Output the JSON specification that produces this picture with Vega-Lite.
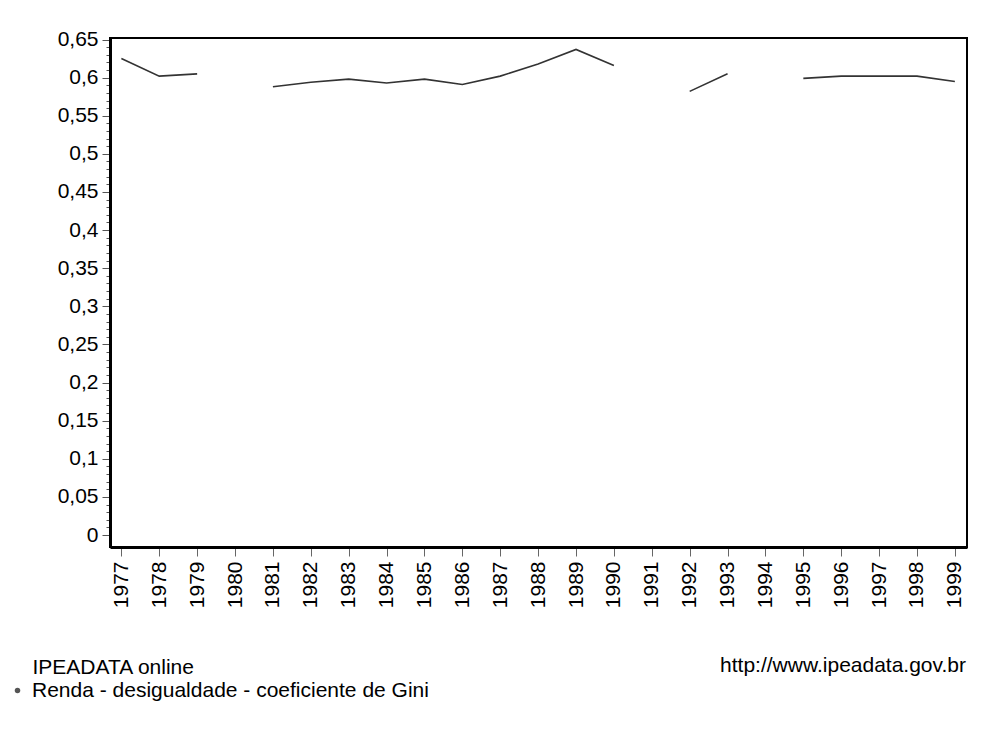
{
  "$schema": "https://vega.github.io/schema/vega-lite/v6.json",
  "width": 857,
  "height": 509,
  "autosize": {"type": "none"},
  "padding": {"left": 110, "top": 38, "right": 19, "bottom": 191},
  "background": "white",
  "config": {
    "view": {"stroke": "#000", "strokeWidth": 2},
    "font": "Liberation Sans",
    "legend": {"padding": 0}
  },
  "title": {
    "text": "http://www.ipeadata.gov.br",
    "orient": "top",
    "anchor": "end",
    "frame": "group",
    "baseline": "alphabetic",
    "offset": 0,
    "dy": 664,
    "dx": -1,
    "fontSize": 21,
    "fontWeight": "normal",
    "font": "Liberation Sans",
    "color": "#000"
  },
  "data": {
    "values": [
      {"year": 1977, "gini": 0.625, "serie": "Renda - desigualdade - coeficiente de Gini"},
      {"year": 1978, "gini": 0.602, "serie": "Renda - desigualdade - coeficiente de Gini"},
      {"year": 1979, "gini": 0.605, "serie": "Renda - desigualdade - coeficiente de Gini"},
      {"year": 1980, "gini": null, "serie": "Renda - desigualdade - coeficiente de Gini"},
      {"year": 1981, "gini": 0.588, "serie": "Renda - desigualdade - coeficiente de Gini"},
      {"year": 1982, "gini": 0.594, "serie": "Renda - desigualdade - coeficiente de Gini"},
      {"year": 1983, "gini": 0.598, "serie": "Renda - desigualdade - coeficiente de Gini"},
      {"year": 1984, "gini": 0.593, "serie": "Renda - desigualdade - coeficiente de Gini"},
      {"year": 1985, "gini": 0.598, "serie": "Renda - desigualdade - coeficiente de Gini"},
      {"year": 1986, "gini": 0.591, "serie": "Renda - desigualdade - coeficiente de Gini"},
      {"year": 1987, "gini": 0.602, "serie": "Renda - desigualdade - coeficiente de Gini"},
      {"year": 1988, "gini": 0.618, "serie": "Renda - desigualdade - coeficiente de Gini"},
      {"year": 1989, "gini": 0.637, "serie": "Renda - desigualdade - coeficiente de Gini"},
      {"year": 1990, "gini": 0.616, "serie": "Renda - desigualdade - coeficiente de Gini"},
      {"year": 1991, "gini": null, "serie": "Renda - desigualdade - coeficiente de Gini"},
      {"year": 1992, "gini": 0.582, "serie": "Renda - desigualdade - coeficiente de Gini"},
      {"year": 1993, "gini": 0.605, "serie": "Renda - desigualdade - coeficiente de Gini"},
      {"year": 1994, "gini": null, "serie": "Renda - desigualdade - coeficiente de Gini"},
      {"year": 1995, "gini": 0.599, "serie": "Renda - desigualdade - coeficiente de Gini"},
      {"year": 1996, "gini": 0.602, "serie": "Renda - desigualdade - coeficiente de Gini"},
      {"year": 1997, "gini": 0.602, "serie": "Renda - desigualdade - coeficiente de Gini"},
      {"year": 1998, "gini": 0.602, "serie": "Renda - desigualdade - coeficiente de Gini"},
      {"year": 1999, "gini": 0.595, "serie": "Renda - desigualdade - coeficiente de Gini"}
    ]
  },
  "mark": {"type": "line", "strokeWidth": 1.6, "invalid": "break-paths-filter-domains"},
  "encoding": {
    "x": {
      "field": "year",
      "type": "quantitative",
      "scale": {"domain": [1976.7, 1999.32], "nice": false, "zero": false},
      "axis": {
        "values": [1977, 1978, 1979, 1980, 1981, 1982, 1983, 1984, 1985, 1986, 1987, 1988, 1989, 1990, 1991, 1992, 1993, 1994, 1995, 1996, 1997, 1998, 1999],
        "format": "d",
        "grid": false,
        "domainColor": "#000",
        "domainWidth": 3,
        "tickColor": "#666",
        "tickSize": 9,
        "tickWidth": 1,
        "labelAngle": 270,
        "labelAlign": "right",
        "labelBaseline": "middle",
        "labelPadding": 5,
        "labelFontSize": 21,
        "labelColor": "#000",
        "labelFont": "Liberation Sans",
        "labelOverlap": false,
        "labelFlush": false,
        "title": "IPEADATA online",
        "titleFontSize": 21,
        "titleFontWeight": "normal",
        "titleFont": "Liberation Sans",
        "titleColor": "#000",
        "titleAlign": "left",
        "titleAnchor": "start",
        "titleBaseline": "alphabetic",
        "titleX": -78,
        "titleY": 126
      }
    },
    "y": {
      "field": "gini",
      "type": "quantitative",
      "scale": {"domain": [-0.0157, 0.652], "nice": false, "zero": false},
      "axis": {
        "values": [0, 0.01, 0.02, 0.03, 0.04, 0.05, 0.06, 0.07, 0.08, 0.09, 0.1, 0.11, 0.12, 0.13, 0.14, 0.15, 0.16, 0.17, 0.18, 0.19, 0.2, 0.21, 0.22, 0.23, 0.24, 0.25, 0.26, 0.27, 0.28, 0.29, 0.3, 0.31, 0.32, 0.33, 0.34, 0.35, 0.36, 0.37, 0.38, 0.39, 0.4, 0.41, 0.42, 0.43, 0.44, 0.45, 0.46, 0.47, 0.48, 0.49, 0.5, 0.51, 0.52, 0.53, 0.54, 0.55, 0.56, 0.57, 0.58, 0.59, 0.6, 0.61, 0.62, 0.63, 0.64, 0.65],
        "labelExpr": "abs(datum.value*20 - round(datum.value*20)) < 0.001 ? replace(format(datum.value, '.2~f'), '.', ',') : ''",
        "grid": false,
        "domainColor": "#000",
        "domainWidth": 3,
        "tickColor": "#555",
        "tickWidth": 1,
        "tickSize": {"condition": {"test": "abs(datum.value*20 - round(datum.value*20)) < 0.001", "value": 8}, "value": 4},
        "labelPadding": 4,
        "labelFontSize": 21,
        "labelColor": "#000",
        "labelFont": "Liberation Sans",
        "labelOverlap": false,
        "labelFlush": false,
        "title": null
      }
    },
    "color": {
      "field": "serie",
      "type": "nominal",
      "scale": {"range": ["#333333"]},
      "legend": {
        "orient": "none",
        "legendX": -103,
        "legendY": 642,
        "title": null,
        "symbolType": "circle",
        "symbolSize": 30,
        "symbolFillColor": "#555",
        "symbolStrokeColor": "#555",
        "symbolStrokeWidth": 0,
        "labelFontSize": 21,
        "labelFont": "Liberation Sans",
        "labelColor": "#000",
        "labelOffset": 4,
        "labelLimit": 0
      }
    }
  }
}
